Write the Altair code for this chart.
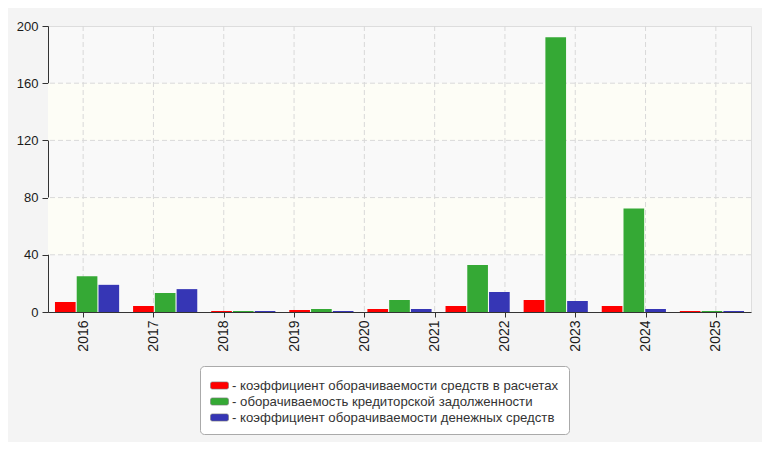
import altair as alt
import pandas as pd

# --- data -------------------------------------------------------------
groups = ["2016", "2017", "2018", "2019", "2020", "2021", "2022", "2023", "2024"]
tick_years = ["2016", "2017", "2018", "2019", "2020", "2021", "2022", "2023", "2024", "2025"]
series = [
    "коэффициент оборачиваемости средств в расчетах",
    "оборачиваемость кредиторской задолженности",
    "коэффициент оборачиваемости денежных средств",
]
red_vals = [7.0, 4.2, 0.7, 1.4, 2.1, 4.2, 8.4, 4.2, 0.7]
green_vals = [25.0, 13.3, 0.7, 2.1, 8.4, 32.9, 192.2, 72.4, 0.7]
blue_vals = [19.0, 16.0, 0.7, 0.7, 2.1, 14.0, 7.7, 2.1, 0.7]
colors = ["#ff0000", "#35a935", "#3636b5"]
y_ticks = [0, 40, 80, 120, 160, 200]
grid_vals = [40, 80, 120, 160]
band_lo = [40, 120]
band_hi = [80, 160]

rows = []
for s, vals in zip(series, [red_vals, green_vals, blue_vals]):
    for g, v in zip(groups, vals):
        rows.append({"group": g, "series": s, "value": v})
df = pd.DataFrame(rows)

yscale = alt.Scale(domain=[0, 200], nice=False, zero=True)


def y_axis():
    return alt.Axis(values=y_ticks, title=None, grid=False, tickSize=6,
                    labelPadding=4, domainColor="#333333", tickColor="#333333",
                    labelColor="#1a1a1a", labelFontSize=13)


bands = alt.Chart(pd.DataFrame({"lo": band_lo, "hi": band_hi})).mark_rect(
    color="#fdfdf6"
).encode(
    y=alt.Y("lo:Q", scale=yscale, axis=y_axis()),
    y2="hi:Q",
)

hgrid = alt.Chart(pd.DataFrame({"v": grid_vals})).mark_rule(
    color="#d9d9d9", strokeDash=[5, 3], strokeWidth=1
).encode(
    y=alt.Y("v:Q", scale=yscale, axis=y_axis()),
)

vgrid = alt.Chart(pd.DataFrame({"year": tick_years})).mark_rule(
    color="#d9d9d9", strokeDash=[5, 3], strokeWidth=1
).encode(
    x=alt.X("year:N", sort=tick_years,
            scale=alt.Scale(type="point", padding=0.5),
            axis=alt.Axis(title=None, labelAngle=270, grid=False, tickSize=5,
                          labelPadding=3, domainColor="#333333",
                          tickColor="#333333", labelColor="#1a1a1a",
                          labelFontSize=14)),
)

sym_path = ("M-0.8,-0.4 L0.8,-0.4 Q1,-0.4 1,-0.2 L1,0.2 Q1,0.4 0.8,0.4 "
            "L-0.8,0.4 Q-1,0.4 -1,0.2 L-1,-0.2 Q-1,-0.4 -0.8,-0.4 Z")

bars = alt.Chart(df).mark_bar().encode(
    x=alt.X("group:N", sort=groups,
            scale=alt.Scale(paddingInner=0, paddingOuter=0), axis=None),
    xOffset=alt.XOffset("series:N", sort=series,
                        scale=alt.Scale(paddingInner=0.05, paddingOuter=0.32)),
    y=alt.Y("value:Q", scale=yscale, axis=y_axis()),
    color=alt.Color(
        "series:N",
        scale=alt.Scale(domain=series, range=colors),
        legend=alt.Legend(
            title=None, orient="none", legendX=152, legendY=340,
            direction="vertical", symbolType=sym_path, symbolSize=324,
            symbolStrokeColor="#777777", symbolStrokeWidth=0.6,
            labelExpr="'- ' + datum.label", labelFontSize=13.2,
            labelColor="#333333", labelLimit=600, fillColor="#ffffff",
            strokeColor="#aaaaaa", cornerRadius=4, padding=10,
            rowPadding=0, labelOffset=3,
        ),
    ),
)

chart = alt.layer(bands, hgrid, vgrid, bars).resolve_scale(
    x="independent"
).properties(
    width=703,
    height=286,
    padding={"left": 40, "top": 18, "right": 11, "bottom": 130},
    autosize=alt.AutoSizeParams(type="none"),
    background="#f4f4f4",
).configure(
    font="Liberation Sans"
).configure_view(
    fill="#f9f9f9", stroke="#dddddd"
)

chart.save("out.html", embed_options={"renderer": "svg", "actions": False})
